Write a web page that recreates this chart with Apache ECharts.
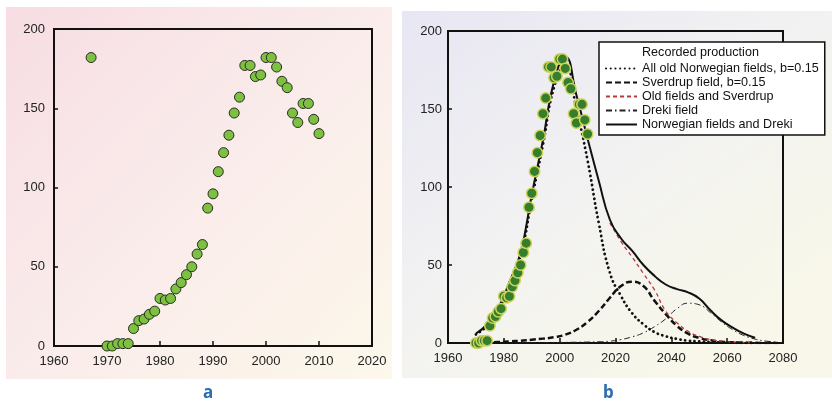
<!DOCTYPE html>
<html>
<head>
<meta charset="utf-8">
<script src="https://cdn.jsdelivr.net/npm/echarts@6/dist/echarts.min.js"></script>
<style>
  html, body { margin: 0; padding: 0; background: #fff; }
  #chart { width: 832px; height: 402px; }
</style>
</head>
<body>
<div id="chart"></div>
<script>
// recorded production
var prodYears = [1967, 1970, 1971, 1972, 1973, 1974, 1975, 1976, 1977, 1978, 1979,
  1980, 1981, 1982, 1983, 1984, 1985, 1986, 1987, 1988, 1989,
  1990, 1991, 1992, 1993, 1994, 1995, 1996, 1997, 1998, 1999,
  2000, 2001, 2002, 2003, 2004, 2005, 2006, 2007, 2008, 2009, 2010]
var prodValues = [182, 0, 0, 1.5, 1.5, 1.5, 11, 16, 17, 20, 22,
  30, 29, 30, 36, 40, 45, 50, 58, 64, 87,
  96, 110, 122, 133, 147, 157, 177, 177, 170, 171,
  182, 182, 176, 167, 163, 147, 141, 153, 153, 143, 134]

// model curves (panel b), one value every 4 years
var curveYears = [1970, 1974, 1978, 1982, 1986, 1990, 1994, 1998, 2002, 2006,
  2010, 2014, 2018, 2022, 2026, 2030, 2034, 2038, 2042, 2046,
  2050, 2054, 2058, 2062, 2066, 2070, 2074, 2078]
var oldFields = [5.5, 11, 21, 37, 56, 92, 127, 164, 178, 150,
  117, 77, 45, 30, 19, 12, 7, 4.3, 2.6, 1.5,
  1, 0.6, 0.4, 0.2, 0.1, 0, null, null]
var sverdrup = [0.2, 0.3, 0.6, 1, 1.5, 2.1, 2.8, 3.7, 5.3, 8.5,
  13.5, 20.5, 29, 36.5, 39.3, 36.5, 27, 18.5, 11, 6,
  3.3, 1.7, 0.8, 0.4, 0.2, 0.1, 0, 0]
var oldPlusSverdrup = [null, null, null, null, null, null, null, null, null, null,
  null, null, 77, 65, 55, 44.5, 34, 20.5, 13, 7.5,
  4.2, 2.2, 1.1, 0.5, 0.2, 0.1, null, null]
var dreki = [0, 0, 0, 0, 0.1, 0.1, 0.2, 0.3, 0.4, 0.5,
  0.6, 0.8, 1.2, 2.2, 4, 6.5, 10.5, 15.5, 22, 25.5,
  24.5, 19.5, 13.5, 8.5, 4.8, 2.5, 1.2, 0.5]
var totalDreki = [6, 12, 22.5, 39, 58, 95, 130, 168, 183.5, 159,
  131, 104, 79, 67, 59, 50, 43, 37.5, 34.5, 32.5,
  28.5, 21, 14.5, 9.8, 6, 3.4, null, null]

var font = 'Liberation Sans, Arial, sans-serif'

function pairs (xs, ys) {
  var out = []
  xs.forEach(function (x, i) {
    if (ys[i] !== null) out.push([x, ys[i]])
  })
  return out
}

var recordedA = pairs(prodYears, prodValues)
var recordedB = recordedA.filter(function (p) { return p[0] >= 1970 })

function xAxisOf (grid, min, max, step) {
  return {
    gridIndex: grid,
    type: 'value',
    min: min,
    max: max,
    interval: step,
    axisLine: { lineStyle: { color: '#111', width: 2 } },
    axisTick: { inside: true, length: 5, lineStyle: { color: '#111', width: 1.5 } },
    axisLabel: {
      color: '#222', fontSize: 13, fontFamily: font, margin: 9,
      formatter: function (v) { return String(v) }
    },
    splitLine: { show: false }
  }
}
function yAxisOf (grid, margin) {
  return {
    gridIndex: grid,
    type: 'value',
    min: 0,
    max: 200,
    interval: 50,
    axisLine: { lineStyle: { color: '#111', width: 2 } },
    axisTick: { inside: true, length: 4, lineStyle: { color: '#111', width: 1.5 } },
    axisLabel: { color: '#222', fontSize: 13, fontFamily: font, margin: margin },
    splitLine: { show: false }
  }
}

function curve (name, ys, style, z) {
  return {
    name: name,
    type: 'line',
    xAxisIndex: 1,
    yAxisIndex: 1,
    data: pairs(curveYears, ys),
    smooth: 0.5,
    symbol: 'none',
    z: z,
    lineStyle: style
  }
}

var myChart = echarts.init(document.getElementById('chart'))
myChart.setOption({
  animation: false,
  graphic: [
    {
      type: 'rect', z: -10,
      shape: { x: 6, y: 7, width: 386, height: 372 },
      style: {
        fill: new echarts.graphic.LinearGradient(0, 0, 1, 1, [
          { offset: 0, color: '#f7dde3' },
          { offset: 0.5, color: '#faeceb' },
          { offset: 1, color: '#fcf8ea' }
        ])
      }
    },
    {
      type: 'rect', z: -10,
      shape: { x: 402, y: 11, width: 430, height: 367 },
      style: {
        fill: new echarts.graphic.LinearGradient(0, 0, 0.6, 1, [
          { offset: 0, color: '#e7e6f3' },
          { offset: 0.5, color: '#f1f1f2' },
          { offset: 1, color: '#f8f7ea' }
        ])
      }
    },
    {
      type: 'text', left: 203, top: 385,
      style: { text: 'a', fill: '#2a6db0', font: 'bold 17px Noto Sans, sans-serif' }
    },
    {
      type: 'text', left: 603, top: 385,
      style: { text: 'b', fill: '#2a6db0', font: 'bold 17px Noto Sans, sans-serif' }
    }
  ],
  grid: [
    { left: 54, top: 29, width: 318, height: 317, show: true, borderColor: '#111', borderWidth: 2, backgroundColor: 'transparent' },
    { left: 448, top: 31, width: 335, height: 312, show: true, borderColor: '#111', borderWidth: 2, backgroundColor: 'transparent' }
  ],
  xAxis: [xAxisOf(0, 1960, 2020, 10), xAxisOf(1, 1960, 2080, 20)],
  yAxis: [yAxisOf(0, 9), yAxisOf(1, 6)],
  legend: {
    orient: 'vertical',
    left: 599,
    top: 42,
    padding: [3, 6, 4, 6],
    itemWidth: 31,
    itemHeight: 14,
    itemGap: 1,
    backgroundColor: '#fff',
    borderColor: '#111',
    borderWidth: 1.5,
    borderRadius: 0,
    itemStyle: { opacity: 0 },
    textStyle: { color: '#111', fontSize: 12.6, fontFamily: font },
    data: ['Recorded production', 'All old Norwegian fields, b=0.15', 'Sverdrup field, b=0.15',
      'Old fields and Sverdrup', 'Dreki field', 'Norwegian fields and Dreki']
  },
  series: [
    {
      name: 'Production',
      type: 'scatter',
      xAxisIndex: 0,
      yAxisIndex: 0,
      data: recordedA,
      symbolSize: 10,
      itemStyle: { color: '#7cc142', borderColor: '#2b2b1e', borderWidth: 1, opacity: 1 }
    },
    curve('Dreki field', dreki, { color: '#222', width: 1, type: [6, 3, 1.5, 3] }, 2),
    curve('Sverdrup field, b=0.15', sverdrup, { color: '#111', width: 2.5, type: [6, 3] }, 3),
    curve('Old fields and Sverdrup', oldPlusSverdrup, { color: '#b53a3a', width: 1.3, type: [4, 3] }, 3),
    curve('All old Norwegian fields, b=0.15', oldFields, { color: '#111', width: 2.8, type: [0.1, 4.6], cap: 'round' }, 4),
    curve('Norwegian fields and Dreki', totalDreki, { color: '#111', width: 2 }, 5),
    {
      name: 'Recorded production',
      type: 'scatter',
      xAxisIndex: 1,
      yAxisIndex: 1,
      data: recordedB,
      symbolSize: 10.5,
      z: 6,
      itemStyle: { color: '#357f2c', borderColor: '#cfd35a', borderWidth: 1.5, opacity: 1 }
    }
  ]
})
</script>
</body>
</html>
